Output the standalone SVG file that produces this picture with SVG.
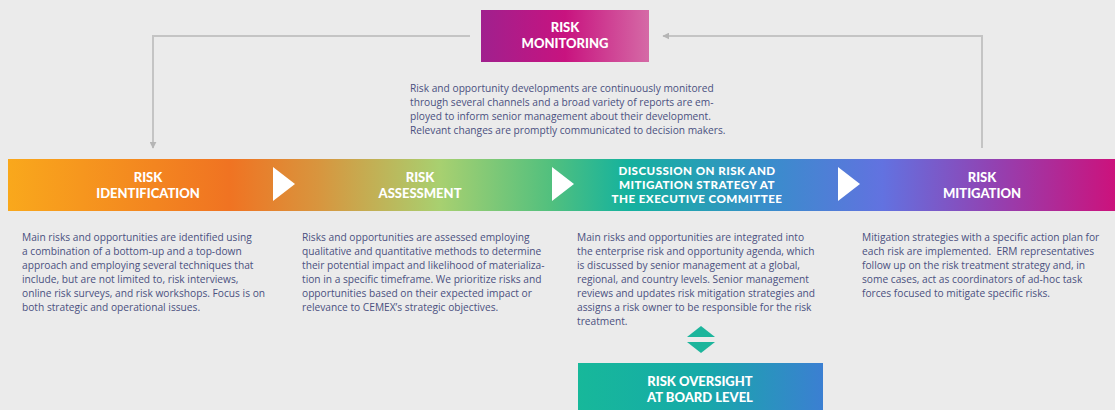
<svg xmlns="http://www.w3.org/2000/svg" width="1115" height="410" viewBox="0 0 1115 410">
<defs>
<linearGradient id="gMon" x1="0" y1="0" x2="1" y2="0">
<stop offset="0" stop-color="#a0208e"/>
<stop offset="0.5" stop-color="#c8137f"/>
<stop offset="1" stop-color="#d56aa6"/>
</linearGradient>
<linearGradient id="gBand" gradientUnits="userSpaceOnUse" x1="8" y1="0" x2="1115" y2="0">
<stop offset="0" stop-color="#f9a81c"/>
<stop offset="0.2" stop-color="#f07322"/>
<stop offset="0.28" stop-color="#d8953e"/>
<stop offset="0.39" stop-color="#a8d070"/>
<stop offset="0.49" stop-color="#52c07e"/>
<stop offset="0.56" stop-color="#14b29e"/>
<stop offset="0.69" stop-color="#3a8ccc"/>
<stop offset="0.79" stop-color="#6272e0"/>
<stop offset="0.89" stop-color="#9242b2"/>
<stop offset="1" stop-color="#cc127c"/>
</linearGradient>
<linearGradient id="gBoard" x1="0" y1="0" x2="1" y2="0">
<stop offset="0" stop-color="#17b89a"/>
<stop offset="0.5" stop-color="#16aaa8"/>
<stop offset="1" stop-color="#3b7fd2"/>
</linearGradient>
<marker id="ah" viewBox="0 0 10 10" refX="9" refY="5" markerWidth="7" markerHeight="7" orient="auto" markerUnits="userSpaceOnUse">
<path d="M0,0 L10,5 L0,10 z" fill="#b5b5b5"/>
</marker>
<style>
.hd{font-family:Lato,"Open Sans",sans-serif;font-weight:900;font-size:13px;fill:#ffffff;text-anchor:middle;}
.hs{font-size:11.6px;letter-spacing:0.45px;}
.tx{font-family:"Open Sans","Noto Sans",sans-serif;font-size:10.2px;fill:#4a5080;}
.pre{white-space:pre;}
.ln{fill:none;stroke:#c4c4c4;stroke-width:2;}
.tri{fill:#ffffff;}
</style>
</defs>
<rect width="1115" height="410" fill="#ebebeb"/>

<g id="connectors">
<path class="ln" d="M470,36 H153 V148" marker-end="url(#ah)"/>
<path class="ln" d="M982,148 V36 H663" marker-end="url(#ah)"/>
</g>

<g id="risk-monitoring">
<rect x="481" y="10" width="168" height="52" fill="url(#gMon)"/>
<text class="hd" x="565" y="32">RISK</text>
<text class="hd" x="565" y="48">MONITORING</text>
</g>

<g id="monitoring-text">
<text class="tx" x="410" y="92">Risk and opportunity developments are continuously monitored</text>
<text class="tx" x="410" y="106">through several channels and a broad variety of reports are em-</text>
<text class="tx" x="410" y="120">ployed to inform senior management about their development.</text>
<text class="tx" x="410" y="134">Relevant changes are promptly communicated to decision makers.</text>
</g>

<g id="band">
<rect x="8" y="159" width="1107" height="52" fill="url(#gBand)"/>
<polygon class="tri" points="273,167 295,184 273,201"/>
<polygon class="tri" points="552,167 574,184 552,201"/>
<polygon class="tri" points="838,167 860,184 838,201"/>
</g>

<g id="risk-identification">
<text class="hd" x="148" y="182">RISK</text>
<text class="hd" x="148" y="198">IDENTIFICATION</text>
<text class="tx" x="22" y="241">Main risks and opportunities are identified using</text>
<text class="tx" x="22" y="255">a combination of a bottom-up and a top-down</text>
<text class="tx" x="22" y="269">approach and employing several techniques that</text>
<text class="tx" x="22" y="283">include, but are not limited to, risk interviews,</text>
<text class="tx" x="22" y="297">online risk surveys, and risk workshops. Focus is on</text>
<text class="tx" x="22" y="311">both strategic and operational issues.</text>
</g>

<g id="risk-assessment">
<text class="hd" x="420" y="182">RISK</text>
<text class="hd" x="420" y="198">ASSESSMENT</text>
<text class="tx" x="302" y="241">Risks and opportunities are assessed employing</text>
<text class="tx" x="302" y="255">qualitative and quantitative methods to determine</text>
<text class="tx" x="302" y="269">their potential impact and likelihood of materializa-</text>
<text class="tx" x="302" y="283">tion in a specific timeframe. We prioritize risks and</text>
<text class="tx" x="302" y="297">opportunities based on their expected impact or</text>
<text class="tx" x="302" y="311">relevance to CEMEX’s strategic objectives.</text>
</g>

<g id="discussion">
<text class="hd hs" x="697" y="175">DISCUSSION ON RISK AND</text>
<text class="hd hs" x="697" y="189">MITIGATION STRATEGY AT</text>
<text class="hd hs" x="697" y="203">THE EXECUTIVE COMMITTEE</text>
<text class="tx" x="577" y="241">Main risks and opportunities are integrated into</text>
<text class="tx" x="577" y="255">the enterprise risk and opportunity agenda, which</text>
<text class="tx" x="577" y="269">is discussed by senior management at a global,</text>
<text class="tx" x="577" y="283">regional, and country levels. Senior management</text>
<text class="tx" x="577" y="297">reviews and updates risk mitigation strategies and</text>
<text class="tx" x="577" y="311">assigns a risk owner to be responsible for the risk</text>
<text class="tx" x="577" y="325">treatment.</text>
</g>

<g id="risk-mitigation">
<text class="hd" x="982" y="182">RISK</text>
<text class="hd" x="982" y="198">MITIGATION</text>
<text class="tx" x="862" y="241">Mitigation strategies with a specific action plan for</text>
<text class="tx pre" x="862" y="255">each risk are implemented.  ERM representatives</text>
<text class="tx" x="862" y="269">follow up on the risk treatment strategy and, in</text>
<text class="tx" x="862" y="283">some cases, act as coordinators of ad-hoc task</text>
<text class="tx" x="862" y="297">forces focused to mitigate specific risks.</text>
</g>

<g id="two-way-arrow">
<polygon points="701,326 715,337 687,337" fill="#1cb59c"/>
<polygon points="687,342 715,342 701,353" fill="#1cb59c"/>
</g>

<g id="board-oversight">
<rect x="578" y="363" width="245" height="50" fill="url(#gBoard)"/>
<text class="hd" x="700" y="386">RISK OVERSIGHT</text>
<text class="hd" x="700" y="402">AT BOARD LEVEL</text>
</g>
</svg>
